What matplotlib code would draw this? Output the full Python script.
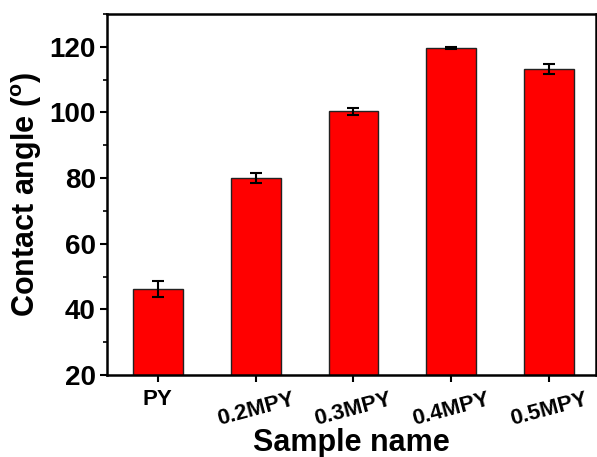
import numpy as np
import matplotlib
matplotlib.use('Agg')
import matplotlib.pyplot as plt
from matplotlib.ticker import MultipleLocator

# data
samples = ['PY', '0.2MPY', '0.3MPY', '0.4MPY', '0.5MPY']
angles = [46.2, 80.0, 100.3, 119.6, 113.2]
errors = [2.3, 1.6, 1.0, 0.3, 1.6]

plt.rcParams['font.family'] = 'Liberation Sans'
plt.rcParams['font.weight'] = 'bold'
plt.rcParams['mathtext.fontset'] = 'custom'
plt.rcParams['mathtext.rm'] = 'Liberation Sans:bold'
plt.rcParams['mathtext.bf'] = 'Liberation Sans:bold'

fig = plt.figure(figsize=(5.97, 4.57), dpi=100)
ax = fig.add_axes([107 / 597, 1 - 375 / 457, (596 - 107) / 597, (375 - 14) / 457])

x = np.arange(len(samples))
ax.bar(x, angles, width=0.51, color='#ff0000', edgecolor='#222222', linewidth=1.0,
       yerr=errors, capsize=4, error_kw={'elinewidth': 1.5, 'capthick': 1.5, 'ecolor': 'black'},
       zorder=2)

ax.set_ylim(20, 130)
ax.set_xlim(-0.52, 4.48)
ax.yaxis.set_major_locator(MultipleLocator(20))
ax.yaxis.set_minor_locator(MultipleLocator(10))
ax.set_xticks(x)
ax.set_xticklabels(samples, rotation=15, fontsize=16, fontweight='bold')
# label PY di gambar asli hampir datar
ax.get_xticklabels()[0].set_rotation(0)
for lbl in ax.get_yticklabels():
    lbl.set_fontsize(20)
    lbl.set_fontweight('bold')

ax.tick_params(axis='both', which='major', direction='out', length=5, width=1.5)
ax.tick_params(axis='y', which='minor', direction='out', length=3, width=1.2)
ax.tick_params(axis='x', pad=5)
ax.tick_params(axis='y', pad=3)
for s in ax.spines.values():
    s.set_linewidth(1.8)

ax.set_ylabel(r'Contact angle ($\mathrm{^{o}}$)', fontsize=22, fontweight='bold', labelpad=4)
ax.set_xlabel('Sample name', fontsize=22, fontweight='bold', labelpad=-1)

fig.savefig('out.png', dpi=100)
